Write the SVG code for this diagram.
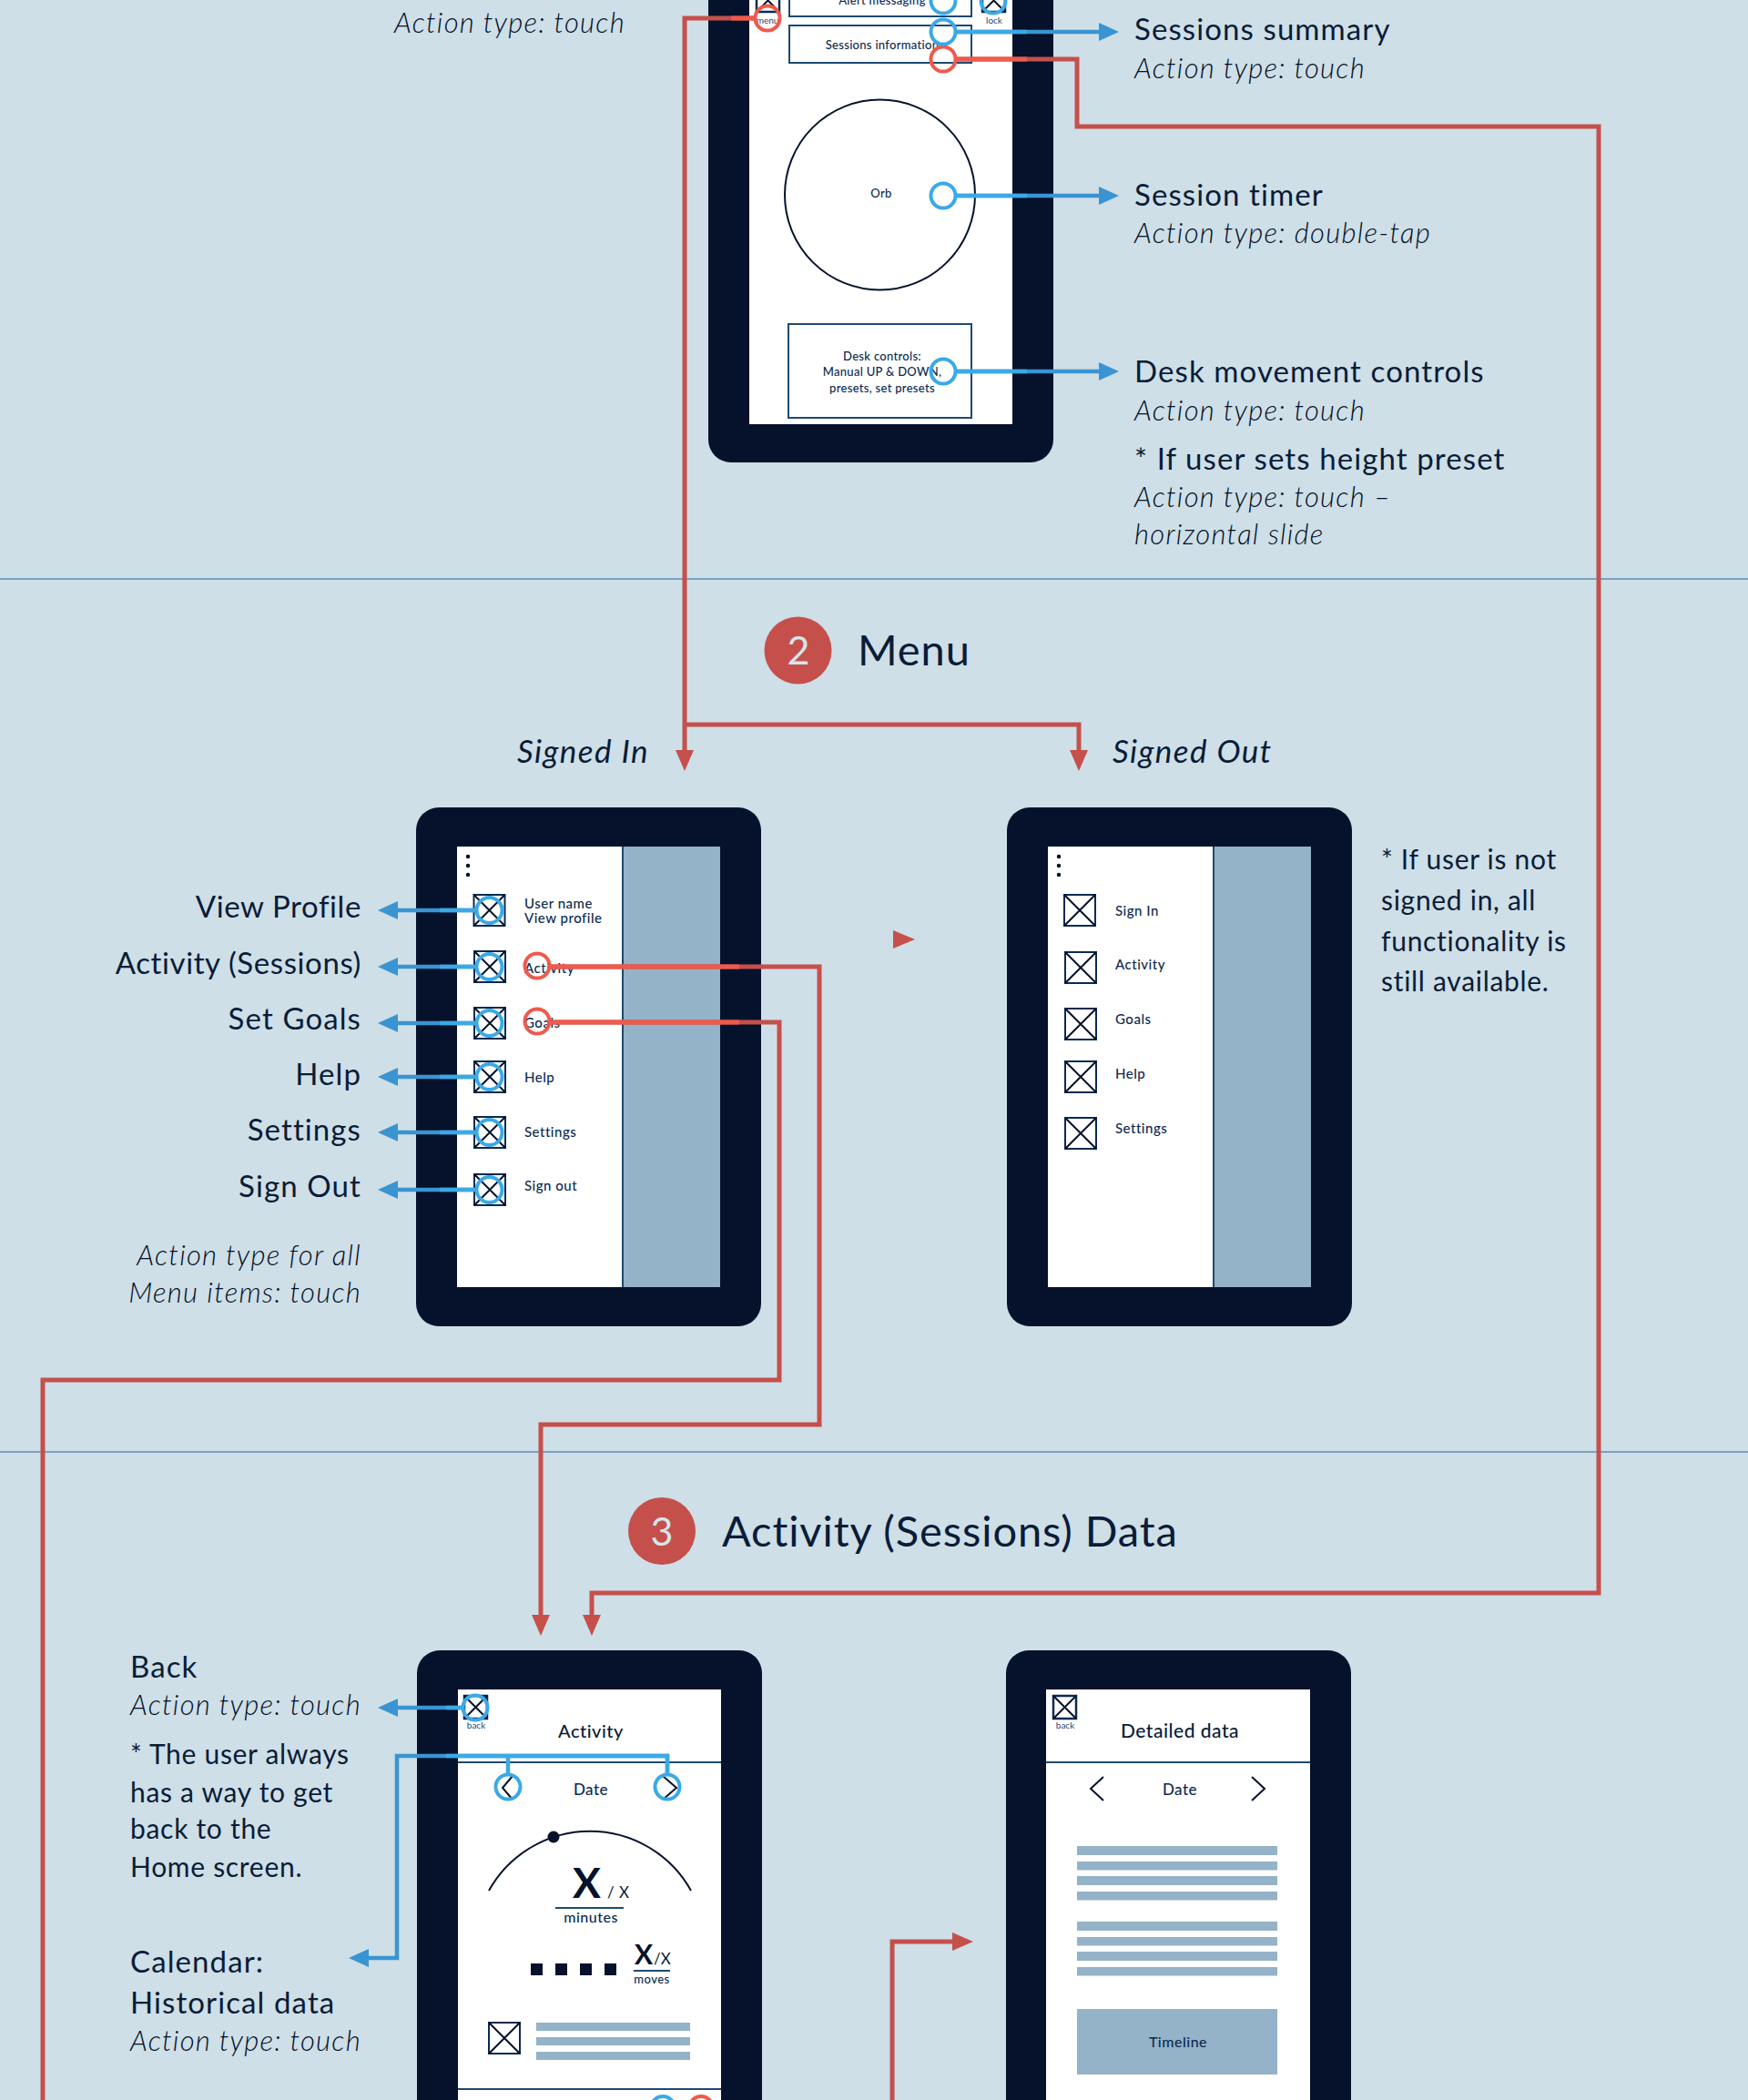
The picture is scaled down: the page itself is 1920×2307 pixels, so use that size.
<svg xmlns="http://www.w3.org/2000/svg" width="1920" height="2307" viewBox="0 0 1920 2307">
<style>
text{font-family:Lato,"Noto Sans","Liberation Sans",sans-serif;fill:#0a1c38}
.l{font-size:33px;letter-spacing:1.100px}
.lt{font-size:33px;letter-spacing:.6px}
.nt{font-size:30px;letter-spacing:.7px}
.i{font-size:31px;font-style:italic;font-weight:300;letter-spacing:1.250px;fill:#041028}
.si{font-size:35px;font-style:italic;font-weight:400;letter-spacing:1.400px}
.h{font-size:47px;letter-spacing:.9px}
.n{font-size:43px;fill:#d6e5ec;text-anchor:middle}
.s{font-size:15px;font-weight:500;letter-spacing:.5px;fill:#0b2a50}
.sc{font-size:13px;font-weight:500;letter-spacing:.3px;text-anchor:middle;fill:#0b2a50}
.t{font-size:10px;text-anchor:middle;fill:#1d4a72}
.ph{font-size:20px;font-weight:500;text-anchor:middle;letter-spacing:.5px}
.dt{font-size:17px;font-weight:500;text-anchor:middle;letter-spacing:.5px;fill:#0b2a50}
.e{text-anchor:end}
.ln{stroke:#1d4a72;stroke-width:2;fill:none}
.nv{stroke:#06122b;stroke-width:2;fill:none}
.bar{fill:#94b2c8}
.frame{fill:#06122b}
.scr{fill:#fff}
.cb{fill:none;stroke:#3ba9e6;stroke-width:4}
.cr{fill:none;stroke:#ee5a4c;stroke-width:4}
.bd{fill:none;stroke:#3a94d2;stroke-width:4.5}
.bb{fill:none;stroke:#3ba9e6;stroke-width:4.5}
.rd{fill:none;stroke:#c5504b;stroke-width:5}
.rb{fill:none;stroke:#ee5a4c;stroke-width:5}
.sec{fill:#c5504b}
</style>
<defs>
<g id="xb"><rect x="1" y="1" width="34" height="34" fill="#fff" stroke="#0b2a50" stroke-width="2"/><path d="M1 1L35 35M35 1L1 35" stroke="#06122b" stroke-width="2" fill="none"/></g>
<g id="xs"><rect x="1" y="1" width="25" height="25" fill="#fff" stroke="#0b2a50" stroke-width="2.5"/><path d="M1 1L26 26M26 1L1 26" stroke="#06122b" stroke-width="2" fill="none"/></g>
<marker id="ab" markerUnits="userSpaceOnUse" markerWidth="24" markerHeight="22" refX="0" refY="10" orient="auto"><path d="M0 0L22 10L0 20Z" fill="#3a94d2"/></marker>
<marker id="ar" markerUnits="userSpaceOnUse" markerWidth="24" markerHeight="22" refX="0" refY="10" orient="auto"><path d="M0 0L23 10L0 20Z" fill="#c5504b"/></marker>
</defs>
<rect width="1920" height="2307" fill="#cedfe7"/>
<path d="M0 636H1920M0 1595H1920" stroke="#5f8fb8" stroke-width="1.5" fill="none"/>

<g id="phone-home">
<rect class="frame" x="778" y="-60" width="379" height="568" rx="25"/>
<rect class="scr" x="823" y="-60" width="289" height="526"/>
<use href="#xs" x="830" y="-13"/>
<text class="t" x="843" y="26">menu</text>
<use href="#xs" x="1078" y="-13"/>
<text class="t" x="1092" y="26">lock</text>
<rect class="ln" x="867" y="-20" width="200" height="38"/>
<text class="sc" x="969" y="5">Alert messaging</text>
<rect class="ln" x="867" y="28" width="200" height="41"/>
<text class="sc" x="969" y="54">Sessions information</text>
<circle class="ln" cx="966.500" cy="214" r="104.500" style="stroke:#06122b"/>
<text class="sc" x="968" y="217">Orb</text>
<rect class="ln" x="866" y="356" width="201" height="103"/>
<text class="sc" x="969" y="396">Desk controls:</text>
<text class="sc" x="969" y="413">Manual UP &amp; DOWN,</text>
<text class="sc" x="969" y="431">presets, set presets</text>
</g>

<g id="phone-menu-in">
<rect class="frame" x="457" y="887" width="379" height="570" rx="25"/>
<rect class="scr" x="502" y="930" width="289" height="484"/>
<rect class="bar" x="685" y="930" width="106" height="484"/>
<path class="ln" d="M684 930V1414"/>
<path d="M514 941v.01M514 951v.01M514 961v.01" stroke="#06122b" stroke-width="4.500" stroke-linecap="round" fill="none"/>
<use href="#xb" x="519.500" y="982"/>
<use href="#xb" x="520" y="1044"/>
<use href="#xb" x="520" y="1106"/>
<use href="#xb" x="520" y="1165"/>
<use href="#xb" x="520" y="1226"/>
<use href="#xb" x="520" y="1289"/>
<text class="s" x="576" y="998">User name</text>
<text class="s" x="576" y="1014">View profile</text>
<text class="s" x="576" y="1069">Activity</text>
<text class="s" x="576" y="1129">Goals</text>
<text class="s" x="576" y="1189">Help</text>
<text class="s" x="576" y="1249">Settings</text>
<text class="s" x="576" y="1308">Sign out</text>
</g>

<g id="phone-menu-out">
<rect class="frame" x="1106" y="887" width="379" height="570" rx="25"/>
<rect class="scr" x="1151" y="930" width="289" height="484"/>
<rect class="bar" x="1334" y="930" width="106" height="484"/>
<path class="ln" d="M1333 930V1414"/>
<path d="M1163 941v.01M1163 951v.01M1163 961v.01" stroke="#06122b" stroke-width="4.500" stroke-linecap="round" fill="none"/>
<use href="#xb" x="1168" y="982"/>
<use href="#xb" x="1169" y="1045"/>
<use href="#xb" x="1169" y="1107"/>
<use href="#xb" x="1169" y="1165"/>
<use href="#xb" x="1169" y="1227"/>
<text class="s" x="1225" y="1006">Sign In</text>
<text class="s" x="1225" y="1065">Activity</text>
<text class="s" x="1225" y="1125">Goals</text>
<text class="s" x="1225" y="1185">Help</text>
<text class="s" x="1225" y="1245">Settings</text>
</g>

<g id="phone-activity">
<rect class="frame" x="458" y="1813" width="379" height="560" rx="25"/>
<rect class="scr" x="503" y="1856" width="289" height="500"/>
<use href="#xs" x="509" y="1862"/>
<text class="t" x="523" y="1899">back</text>
<text class="ph" x="649" y="1909">Activity</text>
<path class="ln" d="M503 1936H792M503 2295H792"/>
<text class="dt" x="649" y="1972">Date</text>
<path class="nv" d="M563 1951L552 1964L563 1977M728 1951L743 1964L728 1977"/>
<path class="nv" d="M537 2077A127 127 0 0 1 759 2077"/>
<circle cx="608" cy="2018" r="6.500" fill="#06122b"/>
<text x="629" y="2085" style="font-size:46px;font-weight:700;fill:#06122b">X</text>
<text x="667" y="2085" style="font-size:17px;letter-spacing:.5px">/ X</text>
<path class="ln" d="M610 2096H685"/>
<text class="dt" x="649" y="2112" style="font-size:16px">minutes</text>
<path fill="#06122b" d="M583 2157h13v13h-13zM610 2157h13v13h-13zM637 2157h13v13h-13zM664 2157h13v13h-13z"/>
<text x="697" y="2158" style="font-size:30px;font-weight:700;fill:#06122b">X</text>
<text x="718" y="2158" style="font-size:17px">/X</text>
<path class="ln" d="M696 2165H736"/>
<text class="dt" x="716" y="2179" style="font-size:13px">moves</text>
<use href="#xb" x="536" y="2221"/>
<rect class="bar" x="589" y="2222" width="169" height="9"/>
<rect class="bar" x="589" y="2238" width="169" height="9"/>
<rect class="bar" x="589" y="2254" width="169" height="9"/>
</g>

<g id="phone-detail">
<rect class="frame" x="1105" y="1813" width="379" height="560" rx="25"/>
<rect class="scr" x="1149" y="1856" width="290" height="500"/>
<use href="#xs" x="1156" y="1862"/>
<text class="t" x="1170" y="1899">back</text>
<text class="ph" x="1296" y="1909" style="font-size:21px">Detailed data</text>
<path class="ln" d="M1149 1936H1439"/>
<text class="dt" x="1296" y="1972">Date</text>
<path class="nv" d="M1212 1952L1198 1965L1212 1978M1375 1952L1389 1965L1375 1978"/>
<rect class="bar" x="1183" y="2028" width="220" height="10"/>
<rect class="bar" x="1183" y="2045" width="220" height="9.500"/>
<rect class="bar" x="1183" y="2061" width="220" height="10"/>
<rect class="bar" x="1183" y="2078" width="220" height="9.500"/>
<rect class="bar" x="1183" y="2111" width="220" height="10"/>
<rect class="bar" x="1183" y="2128" width="220" height="9.500"/>
<rect class="bar" x="1183" y="2144" width="220" height="10"/>
<rect class="bar" x="1183" y="2161" width="220" height="9.500"/>
<rect class="bar" x="1183" y="2207" width="220" height="72"/>
<text class="dt" x="1294" y="2249" style="font-size:16px">Timeline</text>
</g>

<g id="connectors">
<path class="rd" d="M829 20H752V824" marker-end="url(#ar)"/>
<path class="rd" d="M752 796H1185V824" marker-end="url(#ar)"/>
<path class="rd" d="M1050 65H1183V139H1756V1750H650V1774" marker-end="url(#ar)"/>
<path class="rd" d="M603 1062H900V1565H594V1774" marker-end="url(#ar)"/>
<path class="rd" d="M603 1123H856V1516H47V2307"/>
<path class="rd" d="M980 2307V2133H1046" marker-end="url(#ar)"/>
<path d="M981 1022L1005 1032L981 1042Z" fill="#c5504b"/>
<path class="rb" d="M829 20H803M1050 65H1128M603 1062H812M603 1123H812"/>
<circle class="cr" cx="843" cy="20" r="13.500"/>
<circle class="cr" cx="1036" cy="65" r="13.500"/>
<circle class="cr" cx="590" cy="1061" r="13.500"/>
<circle class="cr" cx="590" cy="1122" r="13.500"/>
<circle class="cr" cx="770" cy="2316" r="13"/>

<path class="bd" d="M1050 35H1207" marker-end="url(#ab)"/>
<path class="bd" d="M1050 215H1207" marker-end="url(#ab)"/>
<path class="bd" d="M1050 408H1207" marker-end="url(#ab)"/>
<path class="bd" d="M522 1000H437" marker-end="url(#ab)"/>
<path class="bd" d="M522 1062H437" marker-end="url(#ab)"/>
<path class="bd" d="M522 1124H437" marker-end="url(#ab)"/>
<path class="bd" d="M522 1183H437" marker-end="url(#ab)"/>
<path class="bd" d="M522 1244H437" marker-end="url(#ab)"/>
<path class="bd" d="M522 1307H437" marker-end="url(#ab)"/>
<path class="bd" d="M508 1876H437" marker-end="url(#ab)"/>
<path class="bd" d="M733 1949V1929H436V2151H405" marker-end="url(#ab)"/>
<path class="bb" d="M1050 35H1128M1050 215H1128M1050 408H1128M522 1000H483M522 1062H483M522 1124H483M522 1183H483M522 1244H483M522 1307H483M508 1876H490M733 1949V1929H490M558 1929V1949"/>
<circle class="cb" cx="1036" cy="1" r="13.500"/>
<circle class="cb" cx="1091" cy="1" r="13.500"/>
<circle class="cb" cx="1036" cy="35" r="13.500"/>
<circle class="cb" cx="1036" cy="215" r="13.500"/>
<circle class="cb" cx="1036" cy="408" r="13.500"/>
<circle class="cb" cx="537.500" cy="1000" r="14"/>
<circle class="cb" cx="537.500" cy="1062" r="14"/>
<circle class="cb" cx="537.500" cy="1124" r="14"/>
<circle class="cb" cx="537.500" cy="1183" r="14"/>
<circle class="cb" cx="537.500" cy="1244" r="14"/>
<circle class="cb" cx="537.500" cy="1307" r="14"/>
<circle class="cb" cx="522" cy="1876" r="13.500"/>
<circle class="cb" cx="558" cy="1963" r="13.500"/>
<circle class="cb" cx="733" cy="1963" r="13.500"/>
<circle class="cb" cx="728" cy="2316" r="13"/>
</g>

<g id="labels">
<text class="i" x="433" y="36">Action type: touch</text>
<text class="l" x="1246" y="44">Sessions summary</text>
<text class="i" x="1246" y="86">Action type: touch</text>
<text class="l" x="1246" y="226">Session timer</text>
<text class="i" x="1246" y="267">Action type: double-tap</text>
<text class="l" x="1246" y="420">Desk movement controls</text>
<text class="i" x="1246" y="462">Action type: touch</text>
<text class="l" x="1246" y="516">* If user sets height preset</text>
<text class="i" x="1246" y="557">Action type: touch –</text>
<text class="i" x="1246" y="598">horizontal slide</text>
<text class="si" x="568" y="838">Signed In</text>
<text class="si" x="1222" y="838">Signed Out</text>
<text class="lt e" x="397" y="1008">View Profile</text>
<text class="lt e" x="397" y="1070">Activity (Sessions)</text>
<text class="l e" x="397" y="1131">Set Goals</text>
<text class="l e" x="397" y="1192">Help</text>
<text class="l e" x="397" y="1253">Settings</text>
<text class="l e" x="397" y="1315">Sign Out</text>
<text class="i e" x="397" y="1390">Action type for all</text>
<text class="i e" x="397" y="1431">Menu items: touch</text>
<text class="nt" x="1517" y="955">* If user is not</text>
<text class="nt" x="1517" y="1000">signed in, all</text>
<text class="nt" x="1517" y="1045">functionality is</text>
<text class="nt" x="1517" y="1089">still available.</text>
<text class="l" x="143" y="1843">Back</text>
<text class="i" x="143" y="1884">Action type: touch</text>
<text class="nt" x="143" y="1938">* The user always</text>
<text class="nt" x="143" y="1980">has a way to get</text>
<text class="nt" x="143" y="2020">back to the</text>
<text class="nt" x="143" y="2062">Home screen.</text>
<text class="l" x="143" y="2167">Calendar:</text>
<text class="l" x="143" y="2212">Historical data</text>
<text class="i" x="143" y="2253">Action type: touch</text>
</g>

<g id="section-2">
<circle class="sec" cx="876.500" cy="714.500" r="37"/>
<text class="n" x="877" y="730">2</text>
<text class="h" x="942" y="731">Menu</text>
</g>
<g id="section-3">
<circle class="sec" cx="727" cy="1682" r="37"/>
<text class="n" x="727" y="1698">3</text>
<text class="h" x="793" y="1699">Activity (Sessions) Data</text>
</g>
</svg>
